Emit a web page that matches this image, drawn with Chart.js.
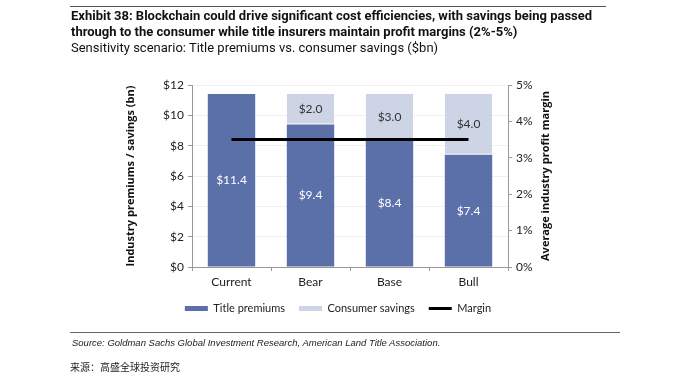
<!DOCTYPE html>
<html>
<head>
<meta charset="utf-8">
<script src="https://cdn.jsdelivr.net/npm/chart.js@4.4.1/dist/chart.umd.min.js"></script>
<style>
  html, body { margin:0; padding:0; background:#fff; width:678px; height:380px; overflow:hidden; }
  #wrap { position:relative; width:678px; height:380px; }
  canvas { position:absolute; left:0; top:0; }
  .t { position:absolute; white-space:nowrap; color:#111; }
  #rule1 { position:absolute; left:70px; top:6px; width:536px; height:1px; background:#555; }
  #title { left:71px; top:8px; font:bold 13px "Liberation Sans Narrow", "Roboto", sans-serif; line-height:15.5px; }
  #sub { left:71px; top:40px; font:13px "Liberation Sans Narrow", "Roboto", sans-serif; }
  #rule2 { position:absolute; left:70px; top:332px; width:550px; height:1px; background:#666; }
  #src { left:72px; top:337px; font:italic 9.5px "Liberation Sans", Arial, sans-serif; color:#222; }
  #cn { left:70px; top:359px; font:10px "Noto Sans CJK SC", sans-serif; color:#222; }
</style>
</head>
<body>
<div id="wrap">
  <canvas id="c" width="678" height="380"></canvas>
  <div id="rule1"></div>
  <div class="t" id="title">Exhibit 38: Blockchain could drive significant cost efficiencies, with savings being passed<br>through to the consumer while title insurers maintain profit margins (2%-5%)</div>
  <div class="t" id="sub">Sensitivity scenario: Title premiums vs. consumer savings ($bn)</div>
  <div id="rule2"></div>
  <div class="t" id="src">Source: Goldman Sachs Global Investment Research, American Land Title Association.</div>
  <div class="t" id="cn">来源：高盛全球投资研究</div>
</div>
<script>
const categories = ["Current", "Bear", "Base", "Bull"];
const titlePremiums = [11.4, 9.4, 8.4, 7.4];
const consumerSavings = [0, 2.0, 3.0, 4.0];
const margin = [3.5, 3.5, 3.5, 3.5];
const leftTicks = [0, 2, 4, 6, 8, 10, 12];
const rightTicks = [0, 1, 2, 3, 4, 5];

const FONT = "Lato, 'Open Sans', sans-serif";
const TFONT = "'Open Sans', sans-serif";
const DARK = "rgb(91,111,168)";
const LIGHT = "rgb(205,212,230)";

const labelPlugin = {
  id: 'barLabels',
  afterDatasetsDraw(chart) {
    const ctx = chart.ctx;
    ctx.save();
    ctx.font = "12px " + FONT;
    ctx.textAlign = 'center';
    ctx.textBaseline = 'middle';
    [0, 1].forEach(di => {
      const meta = chart.getDatasetMeta(di);
      const data = chart.data.datasets[di].data;
      meta.data.forEach((el, i) => {
        const v = data[i];
        if (!v) return;
        const cy = (el.y + el.base) / 2;
        ctx.fillStyle = di === 0 ? '#ffffff' : '#333333';
        ctx.fillText('$' + v.toFixed(1), el.x, cy);
      });
    });
    ctx.restore();
  }
};

const rightTitlePlugin = {
  id: 'rightTitle',
  afterDraw(chart) {
    const s = chart.scales.y1;
    const ctx = chart.ctx;
    ctx.save();
    ctx.font = "bold 11px " + TFONT;
    ctx.fillStyle = '#111';
    ctx.textAlign = 'center';
    ctx.textBaseline = 'middle';
    ctx.translate(s.right - 10.5, (s.top + s.bottom) / 2);
    ctx.rotate(-Math.PI / 2);
    ctx.fillText('Average industry profit margin', 0, 0);
    ctx.restore();
  }
};

new Chart(document.getElementById('c'), {
  type: 'bar',
  data: {
    labels: categories,
    datasets: [
      { label: 'Title premiums', data: titlePremiums, backgroundColor: DARK, borderWidth: 0, order: 1, yAxisID: 'y', stack: 's' },
      { label: 'Consumer savings', data: consumerSavings, backgroundColor: LIGHT, borderColor: '#ffffff',
        borderWidth: { top: 0, left: 0, right: 0, bottom: 1 }, borderSkipped: false, order: 1, yAxisID: 'y', stack: 's' },
      { type: 'line', label: 'Margin', data: margin, borderColor: '#000', backgroundColor: '#000', borderWidth: 3,
        pointRadius: 0, pointStyle: 'line', yAxisID: 'y1', order: 0, stack: 'l' }
    ]
  },
  options: {
    responsive: false,
    animation: false,
    devicePixelRatio: 1,
    layout: { padding: { left: 120, right: 122, top: 85, bottom: 56 } },
    datasets: { bar: { categoryPercentage: 1.0, barPercentage: 0.6 } },
    plugins: {
      tooltip: { enabled: false },
      legend: {
        position: 'bottom',
        labels: {
          font: { family: FONT, size: 11 },
          color: '#222',
          usePointStyle: true,
          pointStyleWidth: 23,
          boxWidth: 23,
          boxHeight: 5,
          padding: 14,
          sort: (a, b) => a.datasetIndex - b.datasetIndex,
          generateLabels: chart => {
            const items = Chart.defaults.plugins.legend.labels.generateLabels(chart);
            items.forEach(it => {
              if (it.datasetIndex === 2) {
                it.pointStyle = 'line'; it.lineWidth = 3; it.strokeStyle = '#000';
              } else {
                it.pointStyle = 'rect'; it.lineWidth = 0;
              }
            });
            return items;
          }
        }
      }
    },
    scales: {
      x: {
        stacked: true,
        afterFit: s => { s.height = 22; },
        grid: { offset: true, drawOnChartArea: false, tickLength: 4, tickColor: '#999' },
        border: { color: '#999' },
        ticks: { font: { family: FONT, size: 12 }, color: '#222', padding: 4 }
      },
      y: {
        stacked: true,
        position: 'left',
        min: 0, max: 12,
        afterBuildTicks: s => { s.ticks = leftTicks.map(v => ({ value: v })); },
        afterFit: s => { s.width = 72; },
        grid: { color: '#f0f0f0', tickLength: 4, tickColor: '#999' },
        border: { color: '#999' },
        ticks: { font: { family: FONT, size: 12 }, color: '#222', padding: 4, callback: v => '$' + v },
        title: { display: true, text: 'Industry premiums / savings (bn)', font: { family: TFONT, size: 11, weight: 'bold' }, color: '#111', padding: 4 }
      },
      y1: {
        position: 'right',
        min: 0, max: 5,
        afterBuildTicks: s => { s.ticks = rightTicks.map(v => ({ value: v })); },
        afterFit: s => { s.width = 48; },
        grid: { drawOnChartArea: false, tickLength: 4, tickColor: '#999' },
        border: { color: '#999' },
        ticks: { font: { family: FONT, size: 12 }, color: '#222', padding: 4, callback: v => v + '%' }
      }
    }
  },
  plugins: [labelPlugin, rightTitlePlugin]
});
</script>
</body>
</html>
